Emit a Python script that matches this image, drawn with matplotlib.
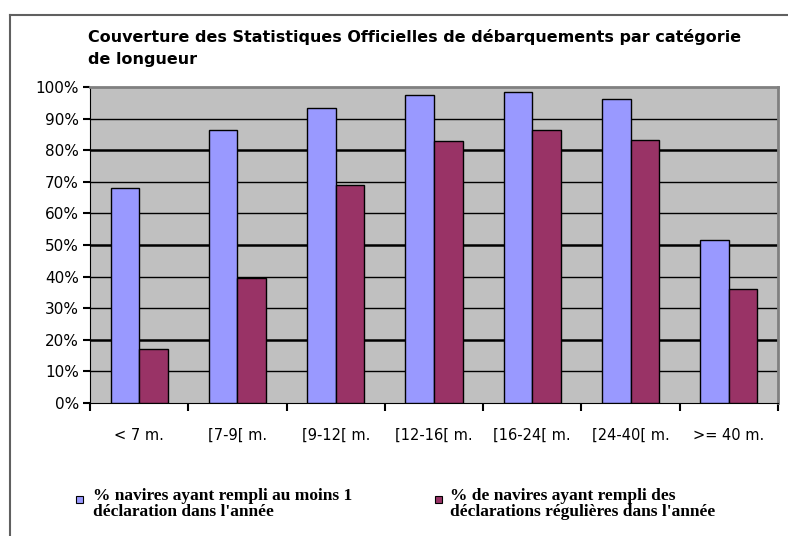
import numpy as np
import matplotlib
matplotlib.use('Agg')
import matplotlib.pyplot as plt
from matplotlib.lines import Line2D
from matplotlib.patches import Rectangle

categories = ['< 7 m.', '[7-9[ m.', '[9-12[ m.', '[12-16[ m.', '[16-24[ m.', '[24-40[ m.', '>= 40 m.']
au_moins_1 = [68, 86.5, 93.5, 97.5, 98.5, 96.3, 51.5]
regulieres = [17, 39.5, 69, 83, 86.5, 83.3, 36]
labels = ["% navires ayant rempli au moins 1\ndéclaration dans l'année",
          "% de navires ayant rempli des\ndéclarations régulières dans l'année"]
title = "Couverture des Statistiques Officielles de débarquements par catégorie\nde longueur"

blue = '#9999FF'
red = '#993366'

fig = plt.figure(figsize=(7.88, 5.36), dpi=100)
ax = fig.add_axes([90/788, 1-403/536, 688/788, 316/536])
ax.set_facecolor('#C0C0C0')

x = np.arange(len(categories))
w = 0.29
ax.bar(x - w/2, au_moins_1, w, color=blue, edgecolor='black', linewidth=1, zorder=3)
ax.bar(x + w/2, regulieres, w, color=red, edgecolor='black', linewidth=1, zorder=3)

ax.set_xlim(-0.5, len(categories) - 0.5)
ax.set_ylim(0, 100)
ax.set_yticks(range(0, 101, 10))
ax.set_yticklabels(['%d%%' % v for v in range(0, 101, 10)], fontsize=11)
for v in range(10, 100, 10):
    ax.axhline(v, color='black', lw=1.8 if v in (20, 50, 80) else 1.0, zorder=1)

ax.set_xticks(np.arange(-0.5, len(categories)))
ax.set_xticklabels([])
ax.set_xticks(x, minor=True)
ax.set_xticklabels(categories, minor=True, fontsize=10.5)
ax.tick_params(axis='x', which='minor', length=0, pad=18)
ax.tick_params(axis='x', which='major', direction='out', length=6, width=1.5)
ax.tick_params(axis='y', direction='out', length=5, width=1.5, pad=3)

for s in ['top', 'right']:
    ax.spines[s].set_color('#808080')
    ax.spines[s].set_linewidth(2)
ax.spines['left'].set_color('black')
ax.spines['bottom'].set_color('black')

fig.text(88/788, 1-29/536, title, fontsize=11.5, fontweight='bold', va='top',
         linespacing=1.6)

# outer frame (top and left only)
fig.add_artist(Line2D([10/788, 1], [1-15/536, 1-15/536], color='#606060', lw=1.5))
fig.add_artist(Line2D([10/788, 10/788], [1-15/536, 0], color='#606060', lw=1.5))

# legend
for sx, tx, col, lab in [(76, 93, blue, labels[0]), (435, 450, red, labels[1])]:
    fig.add_artist(Rectangle((sx/788, 1-503/536), 7/788, 7/536, facecolor=col,
                             edgecolor='black', lw=0.8))
    fig.text(tx/788, 1-504/536, lab, fontsize=12.5, fontweight='bold',
             family='Liberation Serif', va='center', linespacing=1.05)

fig.savefig('out.png', dpi=100)
